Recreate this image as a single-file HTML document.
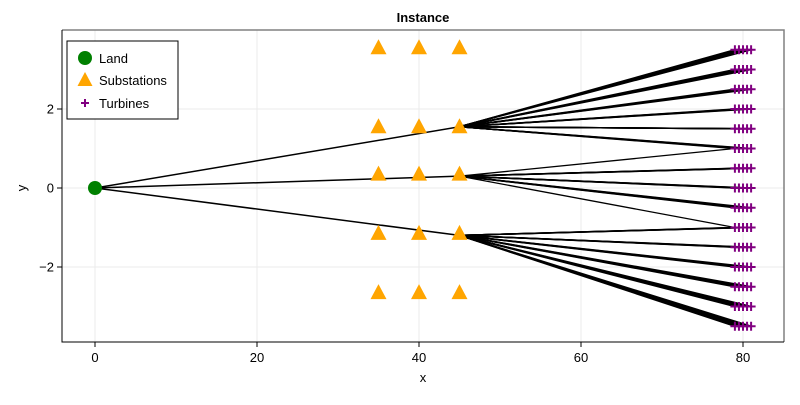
<!DOCTYPE html>
<html><head><meta charset="utf-8"><style>
body{margin:0;background:#fff;font-family:"Liberation Sans",sans-serif;}
</style></head><body>
<svg id="c" width="800" height="400" xmlns="http://www.w3.org/2000/svg"></svg>
<script>
const xTicks=[0,20,40,60,80];
const yTicks=[-2,0,2];
const land=[[0,0]];
const subX=[35,40,45];
const subY=[3.55,1.55,0.35,-1.15,-2.65];
const turbX=[79,79.5,80,80.5,81];
const turbY=[3.5,3,2.5,2,1.5,1,0.5,0,-0.5,-1,-1.5,-2,-2.5,-3,-3.5];
const hubs=[[45,1.55],[45,0.3],[45,-1.2]];
const hubRows=[[3.5,3,2.5,2,1.5,1],[0.5,0,-0.5],[-1,-1.5,-2,-2.5,-3,-3.5]];
const thinLinks=[[1,79,1],[1,79,-1]];
const L=62,R=784,T=30,B=342;
const sx=v=>95+v*8.1, sy=v=>188-v*39.5;
const svg=document.getElementById('c');
const NS='http://www.w3.org/2000/svg';
function mk(t,a,p){const e=document.createElementNS(NS,t);for(const k in a)e.setAttribute(k,a[k]);(p||svg).appendChild(e);return e;}
mk('rect',{x:L,y:T,width:R-L,height:B-T,fill:'#fff'});
xTicks.forEach(v=>{const g=mk('line',{x1:sx(v),x2:sx(v),y1:T,y2:B,stroke:'#ebebeb','stroke-width':1});

mk('line',{x1:sx(v),x2:sx(v),y1:B,y2:B+5,stroke:'#000'});
const t=mk('text',{x:sx(v),y:B+20,'text-anchor':'middle','font-size':13});t.textContent=v;
});
yTicks.forEach(v=>{const g=mk('line',{x1:L,x2:R,y1:sy(v),y2:sy(v),stroke:'#ebebeb','stroke-width':1});

mk('line',{x1:L-5,x2:L,y1:sy(v),y2:sy(v),stroke:'#000'});
const t=mk('text',{x:L-8,y:sy(v)+4.5,'text-anchor':'end','font-size':13});t.textContent=v<0?'−'+(-v):v;
});
hubs.forEach((h,i)=>{
 const e=mk('line',{x1:sx(0),y1:sy(0),x2:sx(h[0]),y2:sy(h[1]),stroke:'#000','stroke-width':1.5});
 
 hubRows[i].forEach(r=>turbX.forEach(tx=>{
  const l=mk('line',{x1:sx(h[0]),y1:sy(h[1]),x2:sx(tx),y2:sy(r),stroke:'#000','stroke-width':1.5});
  }));
});
thinLinks.forEach(k=>{const h=hubs[k[0]];
 const l=mk('line',{x1:sx(h[0]),y1:sy(h[1]),x2:sx(k[1]),y2:sy(k[2]),stroke:'#000','stroke-width':1.3});
 });
subX.forEach(x=>subY.forEach(y=>{const cx=sx(x),cy=sy(y);
 const p=mk('polygon',{points:`${cx},${cy-8.5} ${cx+8},${cy+6.5} ${cx-8},${cy+6.5}`,fill:'#ffa500'});
 }));
turbY.forEach(y=>turbX.forEach(x=>{const cx=sx(x),cy=sy(y);
 const p=mk('path',{d:`M${cx-4.5},${cy}H${cx+4.5}M${cx},${cy-4.5}V${cy+4.5}`,stroke:'#800080','stroke-width':2});
 }));
land.forEach(d=>{const c=mk('circle',{cx:sx(d[0]),cy:sy(d[1]),r:7,fill:'#008000'});
 });
const fr=mk('path',{d:`M${L},${T}H${R}V${B}`,fill:'none',stroke:'#808080','stroke-width':1.5});

const ax=mk('path',{d:`M${L},${T}V${B}H${R}`,fill:'none',stroke:'#000','stroke-width':1});

const ti=mk('text',{x:423,y:22,'text-anchor':'middle','font-size':13,'font-weight':'bold'});ti.textContent='Instance';

const xl=mk('text',{x:423,y:382,'text-anchor':'middle','font-size':13});xl.textContent='x';

const yl=mk('text',{x:26,y:188,'text-anchor':'middle','font-size':13,transform:'rotate(-90 26 188)'});yl.textContent='y';

const lg=mk('g',{});
mk('rect',{x:67,y:41,width:111,height:78,fill:'#fff',stroke:'#000'},lg);
mk('circle',{cx:85,cy:58,r:7,fill:'#008000'},lg);
mk('polygon',{points:'85,72 92.5,86 77.5,86',fill:'#ffa500'},lg);
mk('path',{d:'M81,103H89M85,99V107',stroke:'#800080','stroke-width':2},lg);
[['Land',63],['Substations',85],['Turbines',108]].forEach(a=>{const t=mk('text',{x:99,y:a[1],'font-size':13},lg);t.textContent=a[0];
 });
</script>
</body></html>
